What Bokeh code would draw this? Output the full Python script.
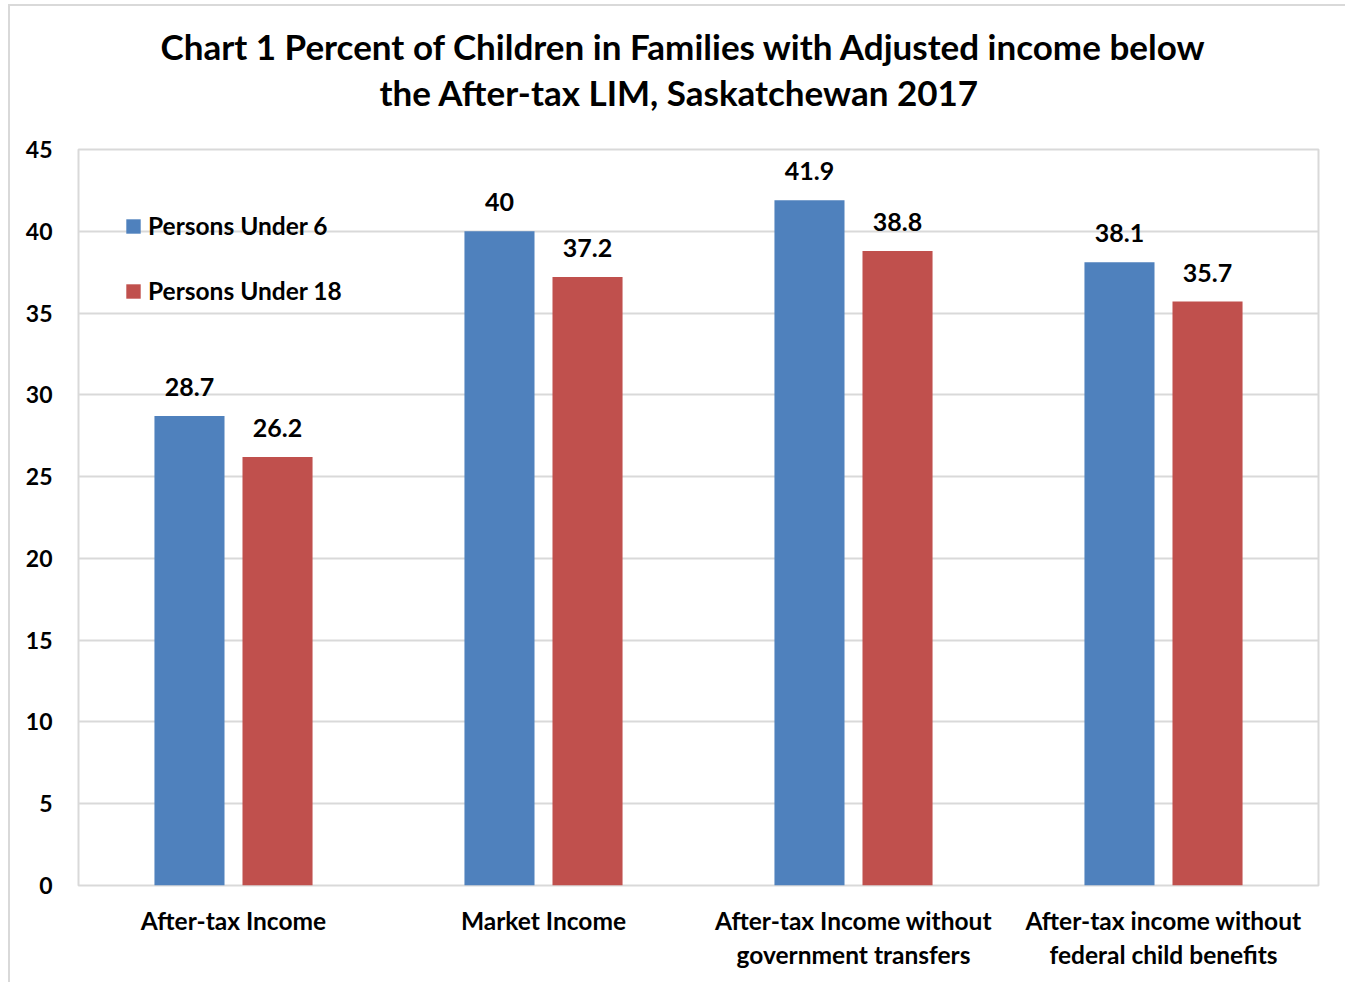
from bokeh.plotting import figure
from bokeh.models import ColumnDataSource, FactorRange, Legend, LegendItem, Title, SingleIntervalTicker
from bokeh.transform import dodge
from bokeh.core.properties import value
from bokeh.embed import file_html
from bokeh.resources import INLINE

categories = ["After-tax Income", "Market Income",
              "After-tax Income without\ngovernment transfers",
              "After-tax income without\nfederal child benefits"]
under6 = [28.7, 40.0, 41.9, 38.1]
under18 = [26.2, 37.2, 38.8, 35.7]
labels6 = ["28.7", "40", "41.9", "38.1"]
labels18 = ["26.2", "37.2", "38.8", "35.7"]
series_names = ["Persons Under 6", "Persons Under 18"]
title_lines = ["Chart 1 Percent of Children in Families with Adjusted income below",
               "the After-tax LIM, Saskatchewan 2017"]

FONT = "Lato"
BLUE = "#4F81BD"
RED = "#C0504D"
GRID = "#d9d9d9"

src = ColumnDataSource(dict(cat=categories, u6=under6, u18=under18, l6=labels6, l18=labels18))

p = figure(x_range=FactorRange(*categories), y_range=(0, 45),
           width=1345, height=982, output_backend="svg", toolbar_location=None,
           min_border_left=78, min_border_right=27, min_border_top=149, min_border_bottom=97)
p.title = None

spacer = Title(text=" ", align="center", text_font=FONT, text_font_size="1px",
               text_color="white", standoff=34)
t2 = Title(text=title_lines[1], align="left", offset=301, text_font=FONT, text_font_size="35px",
           text_font_style="bold", text_color="black", standoff=0)
t1 = Title(text=title_lines[0], align="left", offset=82, text_font=FONT, text_font_size="35px",
           text_font_style="bold", text_color="black", standoff=4)
p.add_layout(spacer, "above")
p.add_layout(t2, "above")
p.add_layout(t1, "above")

off = 0.142
w = 0.226
r1 = p.vbar(x=dodge("cat", -off, range=p.x_range), top="u6", width=w, source=src,
            fill_color=BLUE, line_color=None)
r2 = p.vbar(x=dodge("cat", off, range=p.x_range), top="u18", width=w, source=src,
            fill_color=RED, line_color=None)

p.text(x=dodge("cat", -off, range=p.x_range), y="u6", text="l6", source=src,
       text_align="center", text_baseline="middle", y_offset=-29,
       text_font=value(FONT), text_font_style="bold", text_font_size="25px", text_color="black")
p.text(x=dodge("cat", off, range=p.x_range), y="u18", text="l18", source=src,
       text_align="center", text_baseline="middle", y_offset=-29,
       text_font=value(FONT), text_font_style="bold", text_font_size="25px", text_color="black")

legend = Legend(items=[LegendItem(label=series_names[0], renderers=[r1]),
                       LegendItem(label=series_names[1], renderers=[r2])],
                location=(46, 580), orientation="vertical",
                glyph_width=18, glyph_height=18, label_standoff=6, spacing=36,
                padding=0, margin=0, border_line_alpha=0, background_fill_alpha=0,
                label_text_font=FONT, label_text_font_style="bold",
                label_text_font_size="24.5px", label_text_color="black")
p.add_layout(legend, "center")

p.yaxis.ticker = SingleIntervalTicker(interval=5)
for ax in (p.xaxis, p.yaxis):
    ax.axis_line_color = None
    ax.major_tick_line_color = None
    ax.minor_tick_line_color = None
    ax.major_tick_out = 0
    ax.major_tick_in = 0
    ax.major_label_text_font = FONT
    ax.major_label_text_font_style = "bold"
    ax.major_label_text_color = "black"
p.yaxis.major_label_text_font_size = "23px"
p.xaxis.major_label_text_font_size = "24.5px"
p.yaxis.major_label_standoff = 22
p.xaxis.major_label_standoff = 20

p.xgrid.grid_line_color = None
p.ygrid.grid_line_color = GRID
p.ygrid.grid_line_width = 2
p.outline_line_color = GRID
p.outline_line_width = 2
p.background_fill_color = "white"
p.border_fill_alpha = 0
p.styles = {"background": "linear-gradient(#d9d9d9, #d9d9d9) 8px 4px / 2px 100% no-repeat, "
                          "linear-gradient(#d9d9d9, #d9d9d9) 8px 4px / 100% 2px no-repeat, white"}

open("out.html", "w").write(file_html(p, INLINE))
